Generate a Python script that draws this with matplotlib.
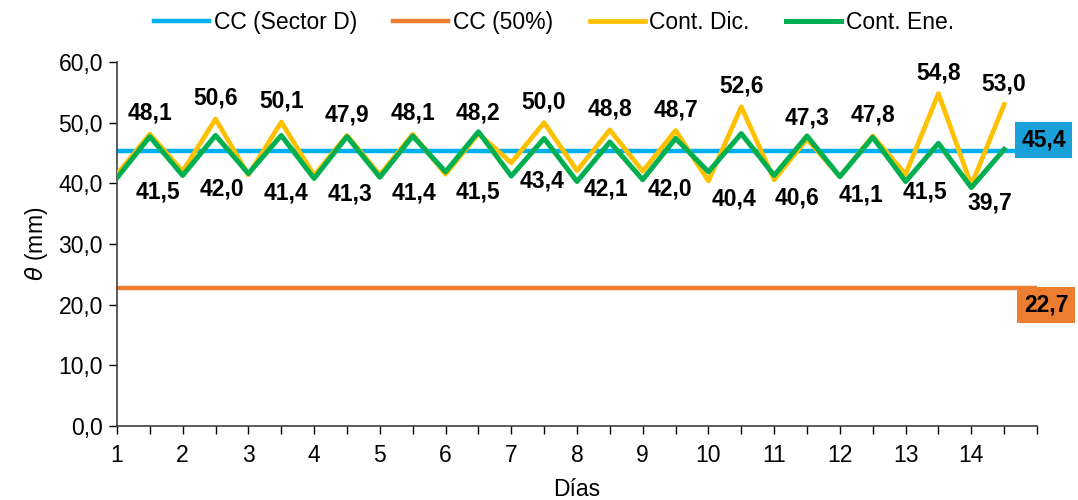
import matplotlib
matplotlib.use("Agg")
import matplotlib.pyplot as plt
import numpy as np

plt.rcParams['font.family'] = ['Liberation Sans', 'DejaVu Sans']

# x positions: days 1, 1.5, 2, ... 14.5
x = np.arange(1, 15, 0.5)
day_labels = [str(d) for d in range(1, 15)]

cc_sector_d = 45.4
cc_50 = 22.7

cont_dic = [41.5, 48.1, 42.0, 50.6, 41.4, 50.1, 41.3, 47.9, 41.4, 48.1,
            41.5, 48.2, 43.4, 50.0, 42.1, 48.8, 42.0, 48.7, 40.4, 52.6,
            40.6, 47.3, 41.1, 47.8, 41.5, 54.8, 39.7, 53.0]
cont_ene = [40.9, 47.7, 41.3, 47.9, 41.6, 47.9, 40.8, 47.7, 41.0, 47.8,
            41.9, 48.5, 41.2, 47.4, 40.3, 46.8, 40.6, 47.4, 41.9, 48.2,
            41.3, 47.8, 41.1, 47.6, 40.3, 46.6, 39.3, 45.6]

c_blue = '#00B0F0'
c_orange = '#ED7D31'
c_yellow = '#FFC000'
c_green = '#00B050'

FS = 16.5

fig = plt.figure(figsize=(10.78, 5.0), dpi=100)
ax = fig.add_axes([0.1085, 0.148, 0.8535, 0.728])

x_end = 15
ax.plot([1, x_end], [cc_sector_d, cc_sector_d], color=c_blue, lw=3.2, label='CC (Sector D)', zorder=2)
ax.plot([1, x_end], [cc_50, cc_50], color=c_orange, lw=3.2, label='CC (50%)', zorder=2)
ax.plot(x, cont_dic, color=c_yellow, lw=3.4, label='Cont. Dic.', zorder=3)
ax.plot(x, cont_ene, color=c_green, lw=3.6, label='Cont. Ene.', zorder=4)

def fmt(v):
    return f"{v:.1f}".replace('.', ',')

# data labels on Cont. Dic.: peaks above, troughs below (shifted right)
n_trough = len(cont_dic[0::2])
trough_dx = np.linspace(41, 18, n_trough) * 0.72
for i, (xi, yi) in enumerate(zip(x, cont_dic)):
    if i % 2 == 1:
        ax.annotate(fmt(yi), (xi, yi), xytext=(0, 15), textcoords='offset points',
                    ha='center', va='center', fontsize=FS, fontweight='bold',
                    color='black', zorder=6)
    else:
        ax.annotate(fmt(yi), (xi, yi), xytext=(trough_dx[i // 2], -13),
                    textcoords='offset points', ha='center', va='center',
                    fontsize=FS, fontweight='bold', color='black', zorder=6)

# boxed labels for the constant lines
ax.annotate(fmt(cc_sector_d), (x_end, cc_sector_d), xytext=(4.7, 7.5), textcoords='offset points',
            ha='center', va='center', fontsize=FS, fontweight='bold', color='black',
            annotation_clip=False, zorder=7,
            bbox=dict(boxstyle='square,pad=0.28', fc='#1BA1D9', ec='none'))
ax.annotate(fmt(cc_50), (x_end, cc_50), xytext=(6.5, -12), textcoords='offset points',
            ha='center', va='center', fontsize=FS, fontweight='bold', color='black',
            annotation_clip=False, zorder=7,
            bbox=dict(boxstyle='square,pad=0.28', fc=c_orange, ec='none'))

ax.set_xlim(1, x_end)
ax.set_ylim(0, 60)
ax.set_yticks(np.arange(0, 61, 10))
ax.set_yticklabels([fmt(v) for v in np.arange(0, 61, 10)], fontsize=FS)
xt = np.arange(1, x_end + 0.01, 0.5)
ax.set_xticks(xt)
ax.set_xticklabels([str(int(t)) if (t == int(t) and t < x_end) else '' for t in xt], fontsize=FS)
ax.tick_params(axis='both', direction='out', length=6, width=1, colors='black')
ax.tick_params(axis='x', pad=7)
ax.tick_params(axis='y', pad=4)

for s in ['top', 'right']:
    ax.spines[s].set_visible(False)
for s in ['left', 'bottom']:
    ax.spines[s].set_color('#404040')
    ax.spines[s].set_linewidth(1.2)

ax.set_xlabel('Días', fontsize=FS, labelpad=8)
ax.set_ylabel(r'$\theta$ (mm)', fontsize=FS, labelpad=6)

fig.legend(loc='upper center', bbox_to_anchor=(0.514, 1.02), ncol=4, frameon=False,
           fontsize=FS, handlelength=2.4, handletextpad=0.2, columnspacing=1.6)

fig.savefig('out.png', dpi=100)
